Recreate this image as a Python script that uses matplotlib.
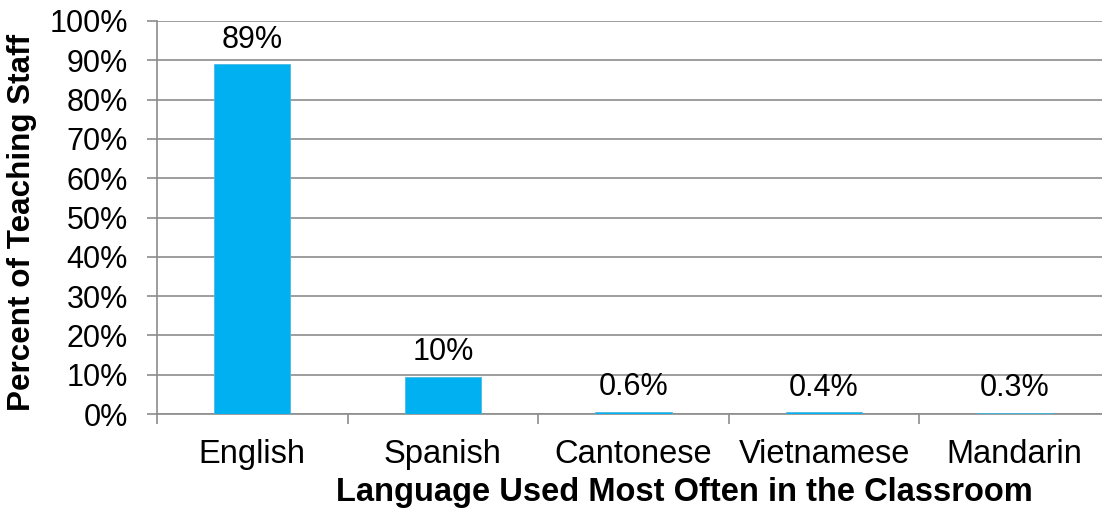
import matplotlib
matplotlib.use("Agg")
import matplotlib.pyplot as plt
from matplotlib.ticker import MultipleLocator, FuncFormatter

# Language most often used in the classroom (% of teaching staff)
languages = ["English", "Spanish", "Cantonese", "Vietnamese", "Mandarin"]
percent = [89, 9.5, 0.6, 0.4, 0.3]

plt.rcParams["font.family"] = ["Liberation Sans", "DejaVu Sans"]

W, H, DPI = 1102, 508, 100
FS = 22
FS_X = 23.5
fig = plt.figure(figsize=(W / DPI, H / DPI), dpi=DPI)
ax_left, ax_right, ax_top, ax_bot = 157, 1110, 21, 414
ax = fig.add_axes([ax_left / W, 1 - ax_bot / H, (ax_right - ax_left) / W, (ax_bot - ax_top) / H])

grid_col = "#8c8c8c"
bar_col = "#00b0f0"

x = range(len(languages))
ax.bar(x, percent, width=0.4, color=bar_col, edgecolor="#4bb8e0", linewidth=0.6, zorder=3)


def fmt_label(v):
    return f"{v:.0f}%" if v >= 1 else f"{v:.1f}%"


for xi, v in zip(x, percent):
    ax.annotate(fmt_label(v), (xi, v), xytext=(0, 7), textcoords="offset points",
                ha="center", va="bottom", fontsize=FS, color="#000000")

ax.set_xlim(-0.5, len(languages) - 0.5)
ax.set_ylim(0, 100)
ax.yaxis.set_major_locator(MultipleLocator(10))
ax.yaxis.set_major_formatter(FuncFormatter(lambda v, p: f"{v:.0f}%"))
ax.yaxis.grid(True, color=grid_col, linewidth=1.2, zorder=0)
ax.set_axisbelow(True)

# category ticks at boundaries between bars, labels centred under bars
ax.set_xticks([i - 0.5 for i in range(len(languages) + 1)])
ax.set_xticklabels([])
ax.set_xticks(list(x), minor=True)
ax.set_xticklabels(languages, minor=True, fontsize=FS_X)
ax.tick_params(axis="x", which="minor", length=0, pad=18)
ax.tick_params(axis="x", which="major", length=7, color=grid_col, width=1.2)
ax.tick_params(axis="y", length=7, color=grid_col, width=1.2, labelsize=FS, pad=14)

for side in ("top", "right"):
    ax.spines[side].set_visible(False)
for side in ("left", "bottom"):
    ax.spines[side].set_color(grid_col)
    ax.spines[side].set_linewidth(1.2)

ax.set_xlabel("Language Used Most Often in the Classroom", fontsize=FS_X, fontweight="bold")
ax.set_ylabel("Percent of Teaching Staff", fontsize=22.6, fontweight="bold")
span_x = ax_right - ax_left
span_y = ax_bot - ax_top
ax.xaxis.set_label_coords((684 - ax_left) / span_x, -(492 - ax_bot) / span_y)
ax.xaxis.label.set_verticalalignment("center")
ax.yaxis.set_label_coords(-(ax_left - 22) / span_x, (ax_bot - 222) / span_y)
ax.yaxis.label.set_verticalalignment("center")

fig.savefig("out.png", dpi=DPI)
